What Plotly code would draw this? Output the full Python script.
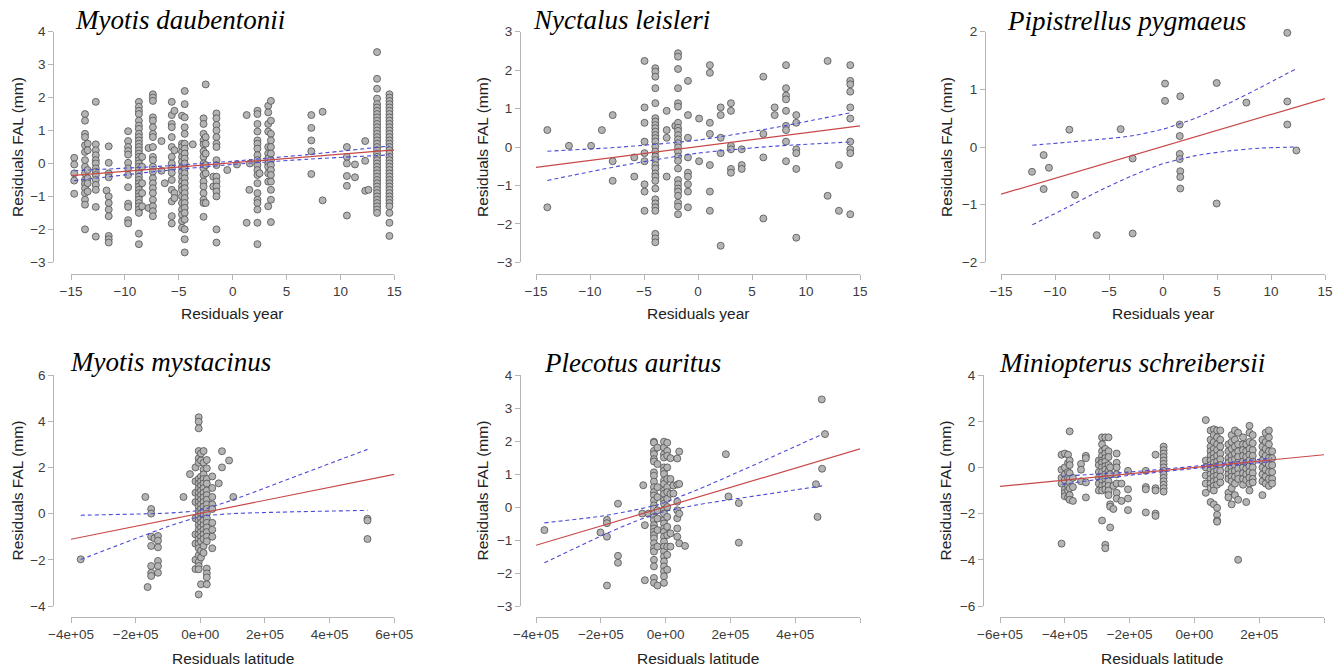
import plotly.graph_objects as go

W, H = 1344, 671

# ---------------- DATA ----------------
species = ["Myotis daubentonii", "Nyctalus leisleri", "Pipistrellus pygmaeus",
           "Myotis mystacinus", "Plecotus auritus", "Miniopterus schreibersii"]
x_titles = ["Residuals year", "Residuals year", "Residuals year",
            "Residuals latitude", "Residuals latitude", "Residuals latitude"]
y_title = "Residuals FAL (mm)"

# Myotis daubentonii: (residual year, [residual FAL ...])
md_cols = [
    (-14.7, [0.17, -0.03, -0.3, -0.52, -0.92]),
    (-13.7, [1.5, 1.3, 0.9, 0.8, 0.55, 0.35, 0.1, -0.1, -0.3, -0.5, -0.62, -0.75, -0.9, -1.1, -1.25, -2.0]),
    (-13.45, [0.6, 0.4, -0.2, -0.45, -0.6, -0.85]),
    (-12.7, [1.87, 0.58, 0.4, 0.25, 0.1, 0.0, -0.15, -0.25, -0.35, -0.5, -0.65, -0.8, -1.32, -2.22]),
    (-11.7, [-0.82]),
    (-11.5, [0.52, 0.02, -0.3, -0.42, -1.0, -1.2, -1.4, -1.6, -2.2, -2.3, -2.4]),
    (-9.7, [0.98, 0.68, 0.5, 0.38, 0.27, 0.02, -0.15, -0.35, -0.72, -1.22, -1.32, -1.72, -1.82]),
    (-8.7, [1.87, 1.72, 1.6, 1.5, 1.3, 1.15, 1.05, 0.9, 0.8, 0.7, 0.6, 0.5, 0.4, 0.3, 0.2, 0.1, 0.0,
            -0.1, -0.2, -0.3, -0.4, -0.5, -0.6, -0.7, -0.8, -0.9, -1.0, -1.1, -1.2, -1.3, -1.4, -1.5,
            -2.13, -2.45]),
    (-8.4, [0.2, -0.1, -0.6, -0.9, -1.3]),
    (-7.8, [0.47, -1.35]),
    (-7.4, [2.1, 2.0, 1.9, 1.4, 1.3, 1.1, 0.9, 0.8, 0.5, 0.2, 0.1, -0.1, -0.25, -0.45, -0.6, -0.75,
            -0.9, -1.1, -1.3, -1.45, -1.6]),
    (-6.6, [0.68, -0.22]),
    (-6.3, [-0.6]),
    (-5.65, [1.87, 1.47, 1.2, 1.1, 0.8, 0.5, 0.2, 0.0, -0.15, -0.28, -0.5, -0.8, -1.15, -1.6, -1.82]),
    (-5.4, [1.6, 0.4, -0.9, -1.05]),
    (-4.7, [1.45, 0.6, 0.5, 0.35, 0.2, 0.05, -0.1, -0.25, -0.4, -0.55, -0.7, -0.8, -1.0, -1.2, -1.4,
            -1.55, -1.75, -1.95]),
    (-4.45, [2.2, 1.8, 1.4, 1.1, 0.9, 0.6, 0.45, 0.3, 0.15, 0.0, -0.15, -0.3, -0.45, -0.6, -0.75,
             -0.9, -1.05, -1.2, -1.35, -1.5, -1.7, -2.0, -2.3, -2.7]),
    (-3.7, [0.58]),
    (-2.7, [1.37, 1.2, 0.9, 0.7, 0.58, 0.37, 0.2, 0.0, -0.15, -0.35, -0.55, -0.7, -0.9, -1.1, -1.2, -1.62]),
    (-2.5, [2.4, 0.8, 0.6, 0.3, -0.05, -0.3, -1.2]),
    (-1.8, [-0.4, -0.7]),
    (-1.5, [1.52, 1.37, 1.17, 1.0, 0.8, 0.6, 0.5, 0.1, -0.05, -0.4, -0.55, -0.7, -0.85, -1.0, -2.0, -2.4]),
    (-0.5, [-0.2]),
    (0.4, [-0.03]),
    (1.3, [1.47, -1.8]),
    (1.55, [-0.8]),
    (1.6, [0.0]),
    (2.3, [1.6, 1.5, 1.2, 0.97, 0.7, 0.6, 0.45, 0.25, 0.1, -0.05, -0.2, -0.35, -0.6, -0.9, -1.1, -1.2,
           -1.4, -1.8, -2.45]),
    (2.5, [-0.3]),
    (3.3, [1.75, 1.55, 1.2, 0.97, 0.5, 0.3, 0.15, 0.0, -0.1, -0.3, -0.55, -1.3]),
    (3.55, [1.9, 1.3, 0.9, 0.7, 0.5, 0.3, 0.1, -0.05, -0.2, -0.35, -0.55, -0.8, -1.1, -1.78]),
    (7.3, [1.47, 1.08, 0.7, 0.37, -0.32]),
    (8.35, [1.57, -1.12]),
    (10.6, [0.5, 0.2, 0.0, -0.38, -0.68, -1.58]),
    (11.35, [-0.03, -0.42]),
    (12.3, [0.68, 0.08, -0.83]),
    (12.6, [-0.8]),
    (13.4, [3.38, 2.57, 2.27, 1.97, 1.8, 1.7, 1.6, 1.5, 1.4, 1.3, 1.2, 1.1, 1.0, 0.9, 0.8, 0.7, 0.6,
            0.5, 0.4, 0.3, 0.2, 0.1, 0.0, -0.1, -0.2, -0.3, -0.4, -0.5, -0.6, -0.7, -0.8, -0.9, -1.0,
            -1.1, -1.2, -1.3, -1.4, -1.5]),
    (14.55, [2.1, 2.0, 1.9, 1.8, 1.7, 1.6, 1.5, 1.4, 1.3, 1.2, 1.1, 1.0, 0.9, 0.8, 0.7, 0.6, 0.5, 0.4,
             0.3, 0.2, 0.1, 0.0, -0.1, -0.2, -0.3, -0.4, -0.5, -0.6, -0.7, -0.8, -0.9, -1.0, -1.1,
             -1.2, -1.3, -1.5, -1.8, -2.2]),
]

# Nyctalus leisleri
nl_cols = [
    (-13.95, [0.44, -1.57]),
    (-11.95, [0.03]),
    (-9.9, [0.03]),
    (-8.9, [0.44]),
    (-7.9, [0.83, -0.37, -0.88]),
    (-5.9, [-0.27, -0.77]),
    (-4.95, [2.24, 1.03, 0.63, 0.14, -0.16, -0.37, -0.97, -1.16, -1.66]),
    (-3.95, [2.05, 1.96, 1.83, 1.53, 1.14, 0.75, 0.66, 0.57, 0.49, 0.4, 0.31, 0.23, 0.14, 0.01, -0.12,
             -0.25, -0.34, -0.47, -0.56, -0.69, -0.77, -0.88, -1.08, -1.36, -1.47, -1.57, -1.66,
             -2.26, -2.38, -2.48]),
    (-2.9, [0.94, 0.44, 0.24, -0.77]),
    (-2.1, [0.55]),
    (-1.85, [2.44, 2.35, 2.03, 1.53, 1.14, 1.05, 0.63, 0.5, 0.42, 0.31, 0.2, 0.1, -0.01, -0.12, -0.25,
             -0.36, -0.56, -0.86, -0.97, -1.08, -1.16, -1.27, -1.45, -1.55, -1.75]),
    (-0.93, [1.72, 0.83, 0.24, -0.27, -0.67, -0.77, -0.97, -1.16, -1.57]),
    (0.1, [0.74, -0.37]),
    (1.1, [2.13, 1.93, 0.63, 0.34, -0.47, -1.16, -1.66]),
    (2.1, [1.03, 0.83, 0.24, -0.16, -2.57]),
    (3.05, [1.14, 0.94, 0.03, -0.06, -0.57, -0.67]),
    (4.05, [-0.06, -0.47, -0.57]),
    (6.05, [1.83, 0.34, -0.27, -1.86]),
    (7.1, [1.03, 0.83]),
    (8.15, [2.13, 1.53, 1.34, 1.24, 0.94, 0.55, 0.44, 0.14, -0.37]),
    (9.1, [0.83, 0.63, -0.06, -0.16, -0.57, -2.36]),
    (12.0, [2.24, -1.27]),
    (13.05, [-0.47, -1.66]),
    (14.1, [2.13, 1.72, 1.63, 1.44, 1.03, 0.74, 0.14, -0.06, -0.16, -1.75]),
]

# Pipistrellus pygmaeus
pp_x = [-12.13, -11.05, -11.05, -10.56, -8.67, -8.15, -6.14, -3.92, -2.81, -2.81, 0.19, 0.19, 1.6,
        1.55, 1.55, 1.55, 1.55, 1.6, 1.6, 1.6, 4.97, 4.97, 7.72, 11.51, 11.51, 11.51, 12.35]
pp_y = [-0.43, -0.14, -0.73, -0.36, 0.30, -0.83, -1.53, 0.31, -0.20, -1.50, 1.10, 0.80, 0.88,
        0.39, 0.19, -0.12, -0.21, -0.42, -0.52, -0.72, 1.11, -0.98, 0.77, 1.98, 0.79, 0.39, -0.06]

# Myotis mystacinus: (residual latitude, [residual FAL ...])
mm_cols = [
    (-3.7e5, [-1.98]),
    (-1.7e5, [0.72]),
    (-1.63e5, [-3.18]),
    (-1.52e5, [0.2, 0.0, -1.0, -1.4, -2.27, -2.56, -2.7]),
    (-1.42e5, [-1.07]),
    (-1.31e5, [-0.97, -1.17, -1.46, -2.05, -2.27, -2.56]),
    (-5.2e4, [0.72]),
    (-3.2e4, [1.71]),
    (-1.5e4, [2.0, 1.4, 0.9, 0.5, -0.2, -0.9, -1.3, -2.0, -2.4]),
    (-5e3, [4.17, 3.98, 3.69, 2.71, 2.39, 2.2, 1.5, 1.3, 1.1, 0.9, 0.7, 0.5, 0.3, 0.1, -0.1, -0.3,
            -0.5, -0.7, -0.9, -1.1, -1.3, -1.5, -1.8, -2.1, -2.27, -2.41, -3.5]),
    (2e3, [2.6, 2.3, 1.6, 1.4, 1.2, 1.0, 0.8, 0.6, 0.4, 0.2, 0.0, -0.2, -0.4, -0.6, -0.8, -1.0,
           -1.2, -1.6, -1.9, -3.06]),
    (1e4, [2.71, 2.2, 1.9, 1.7, 1.5, 1.3, 1.1, 0.9, 0.7, 0.5, 0.3, 0.1, -0.1, -0.3, -0.5, -0.7,
           -0.9, -1.1, -1.4, -1.7]),
    (2e4, [2.32, 1.96, 1.5, 1.3, 1.0, 0.8, 0.6, 0.4, 0.2, 0.0, -0.2, -0.4, -0.6, -0.8, -1.0, -1.2,
           -2.38, -2.59, -2.76, -3.06]),
    (3.7e4, [1.61, 1.11, 0.72, 0.4, 0.2, -0.4, -0.7, -1.0, -1.5]),
    (5.7e4, [1.31]),
    (6.7e4, [2.7, 2.0]),
    (8.9e4, [2.3]),
    (1.02e5, [0.72]),
    (5.17e5, [-0.22, -0.3, -1.1]),
]

# Plecotus auritus
pa_cols = [
    (-3.74e5, [-0.70]),
    (-2.01e5, [-0.77]),
    (-1.81e5, [-0.39, -0.49, -0.9, -2.38]),
    (-1.47e5, [0.1, -1.48, -1.69]),
    (-7.2e4, [-0.2]),
    (-6.9e4, [0.66]),
    (-6.4e4, [-0.55, -2.22]),
    (-5.3e4, [-0.2]),
    (-3.6e4, [1.98, 1.95, 1.7, 1.6, 1.45, 1.38, 1.05, 0.95, 0.77, 0.6, 0.45, 0.35, 0.2, 0.05, -0.05,
              -0.2, -0.3, -0.4, -0.55, -0.65, -0.75, -0.85, -0.95, -1.1, -1.25, -1.35, -1.6, -1.8,
              -2.15, -2.3]),
    (-2.5e4, [1.8, 1.3, 0.6, 0.3, -0.1, -0.35, -0.7, -1.2, -2.38]),
    (-5e3, [1.98, 1.8, 1.6, 1.5, 1.2, 1.1, 1.0, 0.8, 0.7, 0.5, 0.4, 0.2, 0.1, -0.1, -0.2, -0.4,
            -0.5, -0.65, -0.75, -0.9, -1.05, -1.2, -1.35, -1.5, -1.65, -1.8, -1.95, -2.1, -2.3]),
    (5e3, [1.95, 1.7, 1.55, 1.2, 0.85, 0.6, 0.45, 0.25, 0.0, -0.3, -0.6, -0.85, -1.2, -1.45, -1.9]),
    (1.5e4, [1.48, 0.85, 0.4, -0.8, -1.2]),
    (2.4e4, [0.41, 0.65]),
    (3.6e4, [1.47, 0.68, 0.16, -0.1, -0.34, -0.65, -0.9]),
    (4.2e4, [1.68, 0.7, -0.2, -1.1]),
    (6e4, [-1.18]),
    (1.86e5, [1.6]),
    (1.94e5, [0.32]),
    (2.26e5, [0.12, -1.08]),
    (4.64e5, [0.69]),
    (4.69e5, [-0.3]),
    (4.82e5, [3.26]),
    (4.83e5, [1.16]),
    (4.92e5, [2.21]),
]

# Miniopterus schreibersii
ms_cols = [
    (-4.1e5, [-3.3, 0.55, -0.45, -0.1, -0.7]),
    (-4.0e5, [0.6, 0.0, -0.3, -0.55, -0.95, -1.1, -1.25]),
    (-3.9e5, [0.55, 0.2, -0.2, -0.45, -0.8, -1.0, -1.3]),
    (-3.85e5, [1.56, 0.3, 0.1, -0.25, -0.5, -0.65, -0.9, -1.2, -1.4]),
    (-3.75e5, [-0.45, -0.85, -1.45]),
    (-3.5e5, [0.15, -0.1, -0.6]),
    (-3.35e5, [0.5, 0.4, -0.65, -1.3]),
    (-2.95e5, [0.3, 0.1, -0.2, -0.45, -0.7, -1.0]),
    (-2.85e5, [1.3, 1.0, 0.7, 0.5, 0.3, 0.2, 0.0, -0.2, -0.4, -0.55, -0.8, -1.0, -2.3]),
    (-2.75e5, [1.3, 0.8, 0.6, 0.4, 0.25, 0.05, -0.1, -0.3, -0.5, -0.75, -0.95, -3.35, -3.5]),
    (-2.65e5, [1.3, 0.7, 0.45, 0.1, -0.15, -0.35, -0.6, -0.8, -1.0, -1.2]),
    (-2.6e5, [0.0, -0.3, -1.6, -1.7, -2.6]),
    (-2.5e5, [-0.8, -1.8]),
    (-2.4e5, [0.6, 0.2, 0.0, -0.3, -0.7, -1.1, -1.35]),
    (-2.25e5, [-0.7, -1.45]),
    (-2.05e5, [-0.15, -0.95, -1.35, -1.85]),
    (-1.5e5, [-0.15, -0.85, -0.95, -1.95]),
    (-1.2e5, [0.55, -0.9, -1.0, -2.0, -2.1]),
    (-9.5e4, [0.9, 0.75, 0.6, 0.45, 0.3, 0.15, 0.0, -0.15, -0.3, -0.45, -0.6, -0.75, -0.9, -1.05]),
    (3.5e4, [2.05, 0.3, 0.0, -0.35, -0.7, -1.1]),
    (5e4, [1.6, 1.2, 0.9, 0.7, 0.5, 0.3, 0.1, -0.1, -0.3, -0.5, -0.7, -0.9, -1.5]),
    (6e4, [1.65, 1.4, 1.1, 0.8, 0.6, 0.4, 0.2, 0.0, -0.2, -0.4, -0.6, -0.8, -1.0, -1.6]),
    (7e4, [1.6, 1.3, 1.0, 0.75, 0.5, 0.25, 0.05, -0.15, -0.35, -0.55, -0.75, -1.75, -2.05, -2.3, -2.35]),
    (8e4, [1.6, 1.2, 0.9, 0.6, 0.35, 0.1, -0.15, -0.4, -0.65]),
    (1.05e5, [1.0, 0.7, 0.4, 0.2, -0.1, -0.3, -0.5, -1.1, -1.3]),
    (1.15e5, [1.4, 1.1, 0.8, 0.5, 0.3, 0.0, -0.2, -0.4, -0.6, -0.9, -1.6]),
    (1.25e5, [1.6, 1.2, 0.9, 0.6, 0.35, 0.1, -0.15, -0.4, -0.7, -1.2]),
    (1.35e5, [1.5, 1.0, 0.7, 0.45, 0.2, -0.05, -0.3, -0.5, -1.4, -4.0]),
    (1.5e5, [1.3, 1.0, 0.75, 0.5, 0.25, 0.0, -0.25, -0.5, -0.75]),
    (1.6e5, [1.0, 0.7, 0.45, 0.2, -0.05, -0.3, -0.55, -1.5]),
    (1.7e5, [1.8, 1.5, 1.1, 0.8, 0.55, 0.3, 0.05, -0.2, -0.45, -0.7, -1.0]),
    (1.8e5, [1.4, 1.05, 0.75, 0.5, 0.25, 0.0, -0.25, -0.5, -0.65]),
    (2.1e5, [1.2, 0.9, 0.6, 0.3, 0.0, -0.3, -0.6, -1.2]),
    (2.2e5, [1.5, 1.1, 0.8, 0.5, 0.2, -0.1, -0.4, -0.7]),
    (2.3e5, [1.6, 1.3, 1.0, 0.7, 0.4, 0.1, -0.2, -0.5, -0.8]),
    (2.4e5, [0.7, 0.4, 0.1, -0.2, -0.5, -0.7]),
]

# regression fits: intercept, slope
fit_intercept = [0.02, 0.01, 0.01, 0.014, 0.008, 0.0]
fit_slope = [0.026, 0.036, 0.0553, 2.81e-6, 2.92e-6, 1.37e-6]

# 95% confidence bands (x, upper, lower)
ci_x = [
    [-14.7, -7, 0, 7, 14.55],
    [-13.95, -7, 0, 7, 14.1],
    [-12.1, -9, -6, -3, 0, 3, 6, 9, 12.35],
    [-3.7e5, -2e5, -1e5, 0, 1e5, 3e5, 5.17e5],
    [-3.74e5, -2e5, -1e5, -2e4, 1e5, 3e5, 4.83e5],
    [-4.1e5, -2e5, 0, 2.4e5],
]
ci_upper = [
    [-0.22, -0.09, 0.07, 0.27, 0.53],
    [-0.11, 0.0, 0.18, 0.50, 0.89],
    [0.03, 0.08, 0.13, 0.19, 0.31, 0.50, 0.75, 1.03, 1.36],
    [-0.07, -0.02, 0.02, 0.15, 0.59, 1.64, 2.78],
    [-0.48, -0.28, -0.10, 0.08, 0.53, 1.39, 2.20],
    [-0.38, -0.20, 0.05, 0.41],
]
ci_lower = [
    [-0.52, -0.24, -0.03, 0.13, 0.26],
    [-0.87, -0.48, -0.16, 0.02, 0.13],
    [-1.35, -1.06, -0.77, -0.51, -0.29, -0.15, -0.07, -0.02, 0.0],
    [-1.99, -1.08, -0.56, -0.13, 0.0, 0.08, 0.14],
    [-1.69, -0.88, -0.46, -0.18, 0.07, 0.37, 0.64],
    [-0.74, -0.34, -0.05, 0.25],
]

# axis ticks
year_ticks = [-15, -10, -5, 0, 5, 10, 15]
year_labels = ["\u221215", "\u221210", "\u22125", "0", "5", "10", "15"]
lat_ticks_a = [-4e5, -2e5, 0, 2e5, 4e5, 6e5]
lat_labels_a = ["\u22124e+05", "\u22122e+05", "0e+00", "2e+05", "4e+05", "6e+05"]
lat_labels_b = ["\u22124e+05", "\u22122e+05", "0e+00", "2e+05", "4e+05", ""]
lat_ticks_c = [-6e5, -4e5, -2e5, 0, 2e5, 4e5]
lat_labels_c = ["\u22126e+05", "\u22124e+05", "\u22122e+05", "0e+00", "2e+05", ""]


def flatten(cols):
    xs, ys = [], []
    for xv, yl in cols:
        for yv in yl:
            xs.append(xv)
            ys.append(yv)
    return xs, ys


md_x, md_y = flatten(md_cols)
nl_x, nl_y = flatten(nl_cols)
mm_x, mm_y = flatten(mm_cols)
pa_x, pa_y = flatten(pa_cols)
ms_x, ms_y = flatten(ms_cols)
pts = [(md_x, md_y), (nl_x, nl_y), (pp_x, pp_y), (mm_x, mm_y), (pa_x, pa_y), (ms_x, ms_y)]


def ylab(vals):
    return [("\u2212" + str(-v)) if v < 0 else str(v) for v in vals]


# ---------------- LAYOUT (pixel geometry of the screen) ----------------
panels = [
    dict(xr=[-15, 15], yr=[-3, 4], xt=year_ticks, xl=year_labels, px=(71, 394.3), py=(31.7, 262.3),
         yline=53.3, xline=274, ytit_x=17, xtit_y=313, title_x=73, title_y=20),
    dict(xr=[-15, 15], yr=[-3, 3], xt=year_ticks, xl=year_labels, px=(536, 860), py=(31.7, 262.3),
         yline=520, xline=274, ytit_x=482, xtit_y=313, title_x=531, title_y=20),
    dict(xr=[-15, 15], yr=[-2, 2], xt=year_ticks, xl=year_labels, px=(1001, 1325), py=(31.7, 262.3),
         yline=985, xline=274, ytit_x=946, xtit_y=313, title_x=1005, title_y=21),
    dict(xr=[-4e5, 6e5], yr=[-4, 6], xt=lat_ticks_a, xl=lat_labels_a, px=(71, 394.3), py=(375, 606),
         yline=53.3, xline=617, ytit_x=17, xtit_y=658, title_x=68, title_y=362),
    dict(xr=[-4e5, 6e5], yr=[-3, 4], xt=lat_ticks_a, xl=lat_labels_b, px=(536, 860), py=(375, 606),
         yline=520, xline=617, ytit_x=482, xtit_y=658, title_x=542, title_y=363),
    dict(xr=[-6e5, 4e5], yr=[-6, 4], xt=lat_ticks_c, xl=lat_labels_c, px=(1000, 1324), py=(375, 606),
         yline=983, xline=617, ytit_x=945, xtit_y=658, title_x=997, title_y=363),
]
y_steps = [1, 1, 1, 2, 1, 2]


def fx(px):
    return px / W


def fy(py):
    return 1 - py / H


AXC = "#b5b5b5"
TXC = "#3c3c3c"
SANS = "Liberation Sans, Arial, sans-serif"
SERIF = "Liberation Serif, Times New Roman, serif"

fig = go.Figure()
annotations = []
layout_axes = {}

for i, p in enumerate(panels):
    k = "" if i == 0 else str(i + 1)
    xa, ya = "x" + k, "y" + k
    xs, ys = pts[i]
    fig.add_trace(go.Scatter(
        x=xs, y=ys, mode="markers", xaxis=xa, yaxis=ya, cliponaxis=False,
        marker=dict(size=7, color="#b4b4b4", line=dict(color="#505050", width=0.8)),
        showlegend=False, hoverinfo="skip"))
    # confidence band
    for band in (ci_upper[i], ci_lower[i]):
        fig.add_trace(go.Scatter(
            x=ci_x[i], y=band, mode="lines", xaxis=xa, yaxis=ya,
            line=dict(color="#4b4bd8", width=1.1, dash="4px,3px", shape="spline", smoothing=0.6),
            showlegend=False, hoverinfo="skip"))
    # fitted regression line over the axis span
    lx = p["xr"]
    ly = [fit_intercept[i] + fit_slope[i] * v for v in lx]
    fig.add_trace(go.Scatter(
        x=lx, y=ly, mode="lines", xaxis=xa, yaxis=ya,
        line=dict(color="#c84848", width=1.2), showlegend=False, hoverinfo="skip"))

    yt = list(range(p["yr"][0], p["yr"][1] + 1, y_steps[i]))
    layout_axes["xaxis" + k] = dict(
        domain=[fx(p["px"][0]), fx(p["px"][1])], range=p["xr"], anchor="free",
        position=fy(p["xline"]), showline=True, linecolor=AXC, linewidth=1,
        ticks="outside", ticklen=5, tickwidth=1, tickcolor=AXC, automargin=False,
        tickvals=p["xt"], ticktext=p["xl"], showgrid=False, zeroline=False,
        tickfont=dict(family=SANS, size=13.5, color=TXC))
    layout_axes["yaxis" + k] = dict(
        domain=[fy(p["py"][1]), fy(p["py"][0])], range=p["yr"], anchor="free",
        position=fx(p["yline"]), showline=True, linecolor=AXC, linewidth=1,
        ticks="outside", ticklen=5, tickwidth=1, tickcolor=AXC, automargin=False,
        tickvals=yt, ticktext=ylab(yt), showgrid=False, zeroline=False,
        tickfont=dict(family=SANS, size=13.5, color=TXC))

    annotations.append(dict(
        text="<i>" + species[i] + "</i>", xref="paper", yref="paper",
        x=fx(p["title_x"]), y=fy(p["title_y"]), xanchor="left", yanchor="middle",
        showarrow=False, font=dict(family=SERIF, size=27, color="#000000")))
    annotations.append(dict(
        text=x_titles[i], xref="paper", yref="paper",
        x=fx((p["px"][0] + p["px"][1]) / 2), y=fy(p["xtit_y"]),
        xanchor="center", yanchor="middle", showarrow=False,
        font=dict(family=SANS, size=15.5, color="#222222")))
    annotations.append(dict(
        text=y_title, xref="paper", yref="paper", textangle=-90,
        x=fx(p["ytit_x"]), y=fy((p["py"][0] + p["py"][1]) / 2),
        xanchor="center", yanchor="middle", showarrow=False,
        font=dict(family=SANS, size=15.5, color="#222222")))

fig.update_layout(
    template="none",
    width=W, height=H, margin=dict(l=0, r=0, t=0, b=0, autoexpand=False),
    paper_bgcolor="white", plot_bgcolor="white", showlegend=False,
    annotations=annotations, **layout_axes)

# remove the browser's default page margin so the figure sits at the window's corner
fig.write_html("out.html",
               config={"displayModeBar": False, "staticPlot": True},
               post_script="document.body.style.margin='0';document.body.style.padding='0';")
